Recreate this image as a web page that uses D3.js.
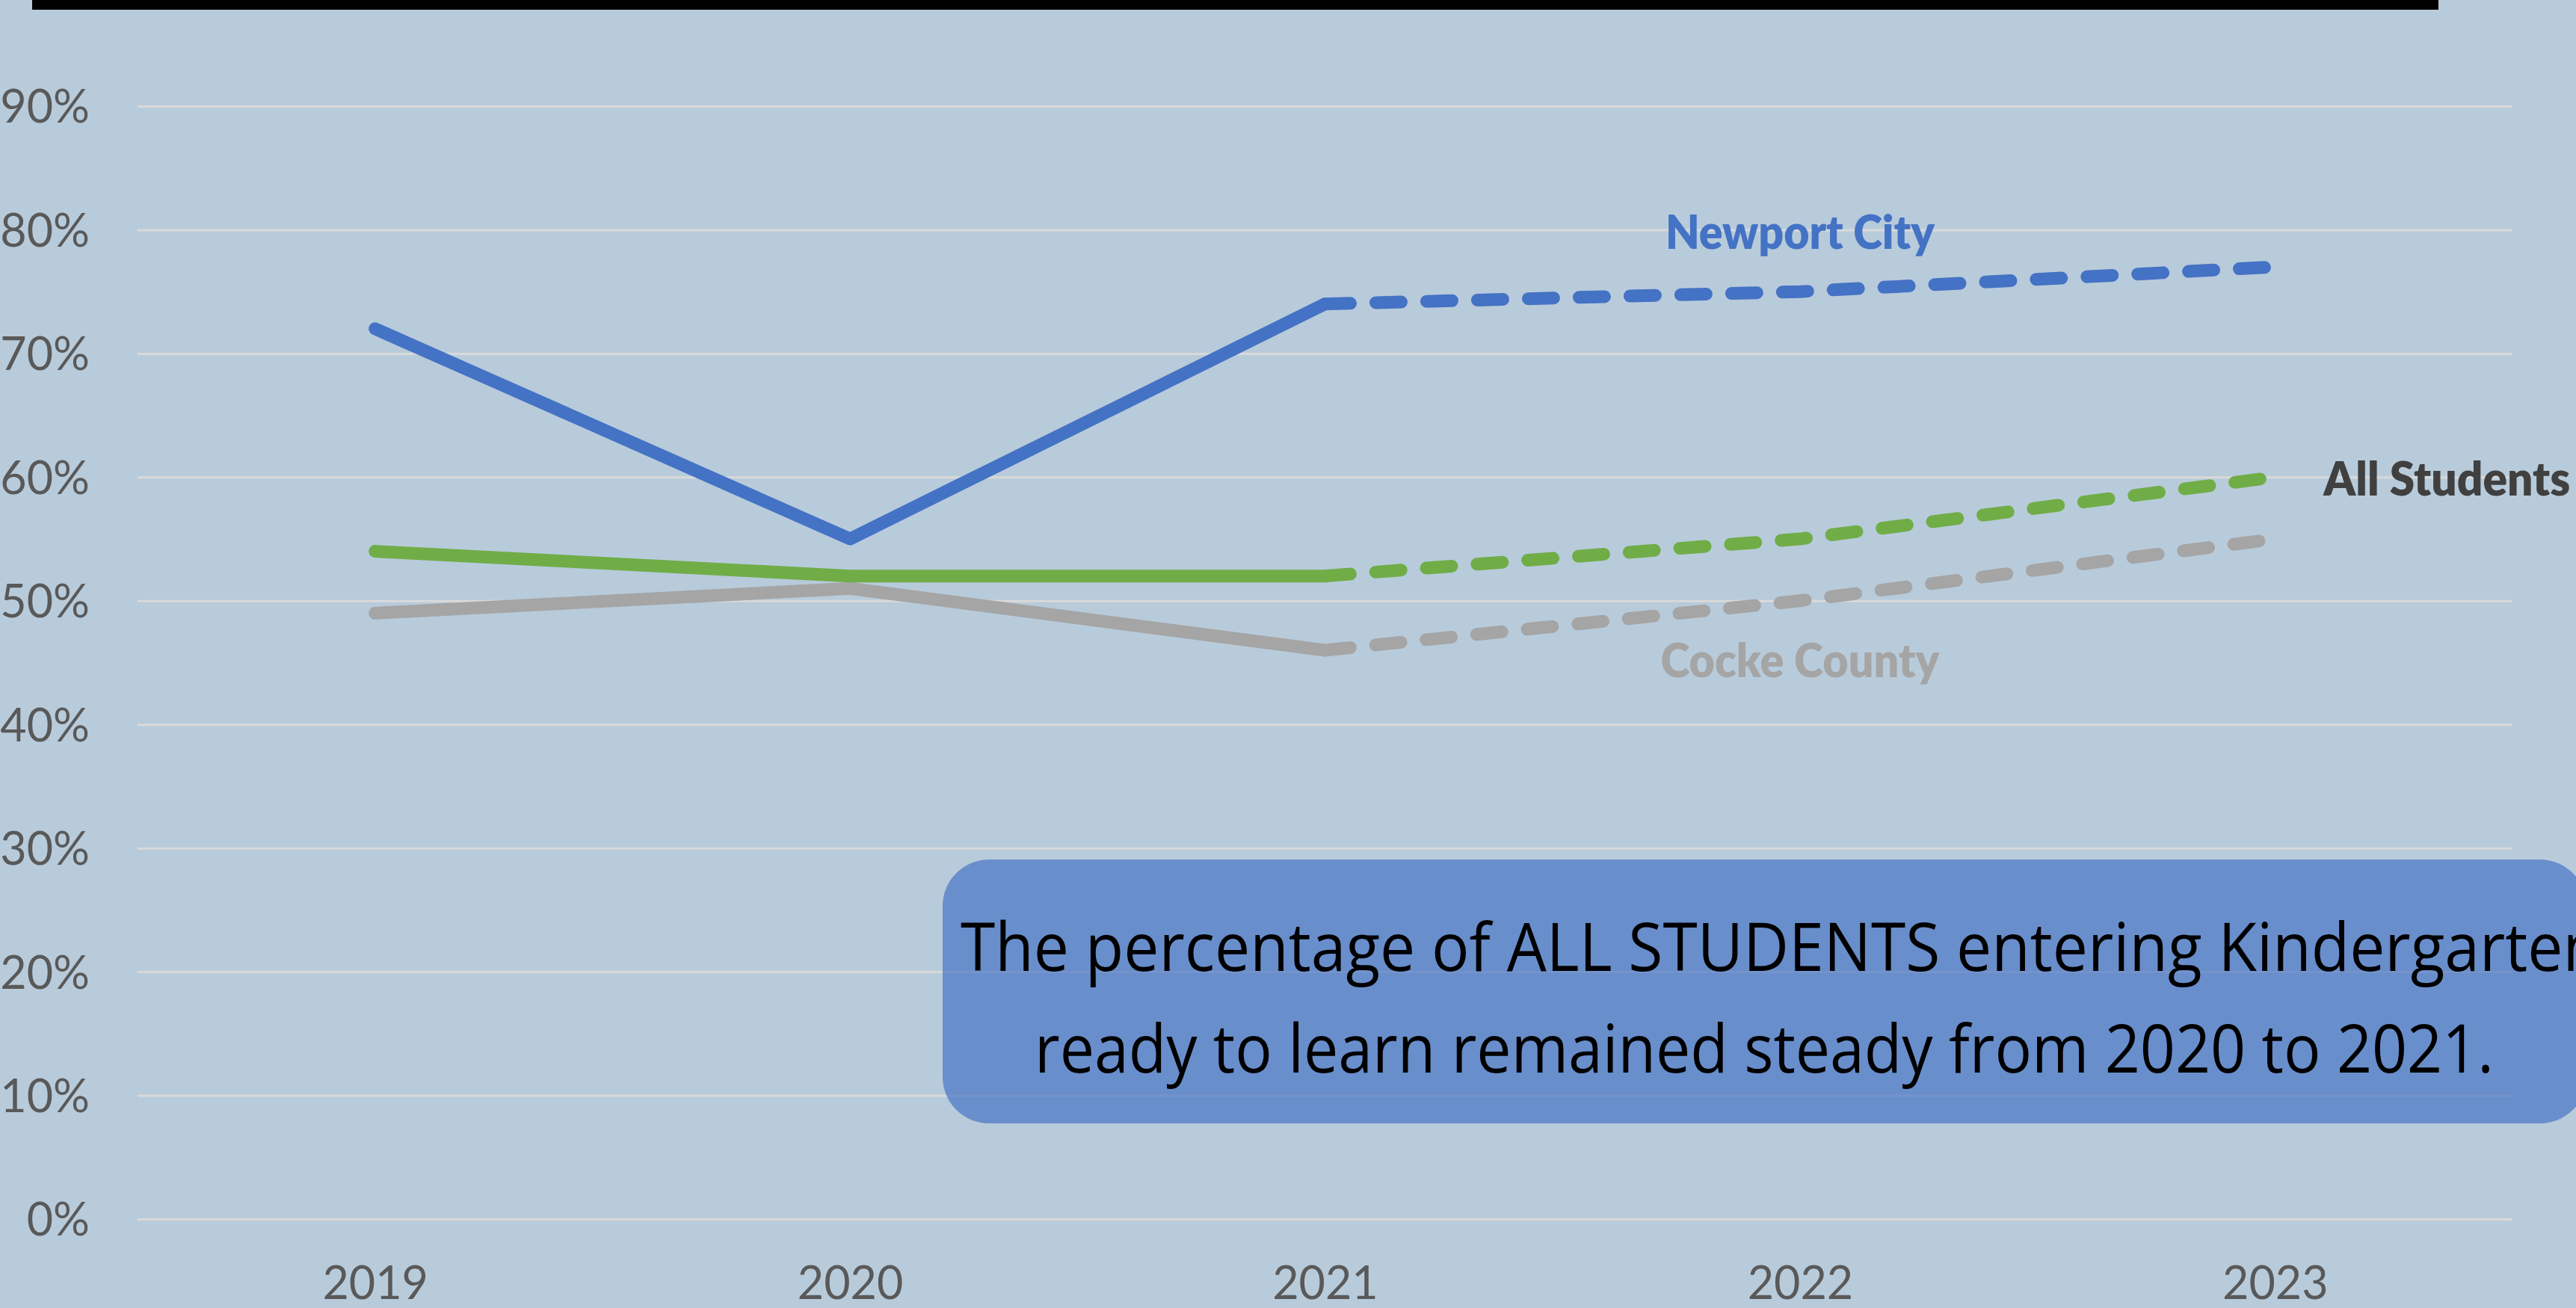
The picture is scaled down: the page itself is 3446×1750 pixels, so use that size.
<!DOCTYPE html>
<html>
<head>
<meta charset="utf-8">
<script src="https://cdn.jsdelivr.net/npm/d3@7"></script>
<style>
  html, body { margin: 0; padding: 0; background: #B8CBDB; overflow: hidden; }
  svg { display: block; }
</style>
</head>
<body>
<script>
// ---- data ----
const years = ["2019", "2020", "2021", "2022", "2023"];
const newportCity = [0.72, 0.55, 0.74, 0.75, 0.77];
const allStudents = [0.54, 0.52, 0.52, 0.55, 0.60];
const cockeCounty = [0.49, 0.51, 0.46, 0.50, 0.55];
const yTickValues = [0, 0.1, 0.2, 0.3, 0.4, 0.5, 0.6, 0.7, 0.8, 0.9];
const seriesNames = ["Newport City", "All Students", "Cocke County"];
const noteLines = [
  "The percentage of ALL STUDENTS entering Kindergarten",
  "ready to learn remained steady from 2020 to 2021."
];
const actualCount = 3; // 2019-2021 actual (solid), 2021-2023 projected (dashed)

// ---- layout ----
const W = 3446, H = 1750;
const plotLeft = 184, plotRight = 3361, plotTop = 142, plotBottom = 1631;

const svg = d3.select("body").append("svg")
  .attr("width", W).attr("height", H);

svg.append("rect").attr("width", W).attr("height", H).attr("fill", "#B8CBDB");

// black title bar at top
svg.append("rect").attr("x", 43).attr("y", 0).attr("width", 3262 - 43).attr("height", 13).attr("fill", "#000");

const x = d3.scalePoint().domain(years).range([plotLeft, plotRight]).padding(0.5);
const y = d3.scaleLinear().domain([0, 0.9]).range([plotBottom, plotTop]);

const axisFont = "Lato, 'Open Sans', sans-serif";

// y axis with gridlines
const yAxis = svg.append("g")
  .attr("transform", `translate(${plotLeft},0)`)
  .call(d3.axisLeft(y).tickValues(yTickValues).tickFormat(d3.format(".0%"))
    .tickSize(-(plotRight - plotLeft)).tickPadding(64));
yAxis.select(".domain").remove();
yAxis.selectAll(".tick line").attr("stroke", "#D9D9D9").attr("stroke-width", 3);
yAxis.selectAll(".tick text")
  .attr("fill", "#595959").attr("font-family", axisFont)
  .attr("font-size", 61).attr("dy", "0.36em");

// x axis labels
const xAxis = svg.append("g")
  .attr("transform", `translate(0,${plotBottom})`)
  .call(d3.axisBottom(x).tickSize(0).tickPadding(64));
xAxis.select(".domain").remove();
xAxis.selectAll(".tick text")
  .attr("fill", "#595959").attr("font-family", axisFont)
  .attr("font-size", 61).attr("dy", "0.71em");

// lines
const series = [
  { name: seriesNames[0], values: newportCity, color: "#4472C4" },
  { name: seriesNames[1], values: allStudents, color: "#70AD47" },
  { name: seriesNames[2], values: cockeCounty, color: "#A5A5A5" }
];
const line = d3.line().x(d => x(d.year)).y(d => y(d.v));
const drawOrder = [series[2], series[1], series[0]];
drawOrder.forEach(s => {
  const pts = years.map((yr, i) => ({ year: yr, v: s.values[i] }));
  svg.append("path")
    .attr("d", line(pts.slice(0, actualCount)))
    .attr("fill", "none").attr("stroke", s.color).attr("stroke-width", 17)
    .attr("stroke-linejoin", "round").attr("stroke-linecap", "round");
  svg.append("path")
    .attr("d", line(pts.slice(actualCount - 1)))
    .attr("fill", "none").attr("stroke", s.color).attr("stroke-width", 17)
    .attr("stroke-linejoin", "round").attr("stroke-linecap", "round")
    .attr("stroke-dasharray", "34,34");
});

// series labels
const labelFont = "Lato, 'Open Sans', sans-serif";
const midX = x("2022");
svg.append("text").text(seriesNames[0])
  .attr("x", midX).attr("y", 333)
  .attr("text-anchor", "middle").attr("font-family", labelFont).attr("font-weight", 800)
  .attr("font-size", 62).attr("fill", "#4472C4")
  .attr("textLength", 360).attr("lengthAdjust", "spacingAndGlyphs");
svg.append("text").text(seriesNames[1])
  .attr("x", x("2023") + 65).attr("y", y(allStudents[4]) + 25)
  .attr("text-anchor", "start").attr("font-family", labelFont).attr("font-weight", 800)
  .attr("font-size", 62).attr("fill", "#404040")
  .attr("textLength", 330).attr("lengthAdjust", "spacingAndGlyphs");
svg.append("text").text(seriesNames[2])
  .attr("x", midX).attr("y", 906)
  .attr("text-anchor", "middle").attr("font-family", labelFont).attr("font-weight", 800)
  .attr("font-size", 62).attr("fill", "#A5A5A5")
  .attr("textLength", 373).attr("lengthAdjust", "spacingAndGlyphs");

// annotation box
const boxX = 1261, boxY = 1150, boxW = 3460 - 1261, boxH = 1503 - 1150;
svg.append("rect")
  .attr("x", boxX).attr("y", boxY).attr("width", boxW).attr("height", boxH)
  .attr("rx", 62).attr("ry", 62)
  .attr("fill", "#4472C4").attr("fill-opacity", 0.68);

const noteFont = "'Open Sans', 'Noto Sans', sans-serif";
svg.append("text").text(noteLines[0])
  .attr("x", 1285).attr("y", 1299)
  .attr("font-family", noteFont).attr("font-size", 90).attr("fill", "#000")
  .attr("textLength", 2195).attr("lengthAdjust", "spacingAndGlyphs");
svg.append("text").text(noteLines[1])
  .attr("x", 2360).attr("y", 1435).attr("text-anchor", "middle")
  .attr("font-family", noteFont).attr("font-size", 90).attr("fill", "#000")
  .attr("textLength", 1952).attr("lengthAdjust", "spacingAndGlyphs");
</script>
</body>
</html>
